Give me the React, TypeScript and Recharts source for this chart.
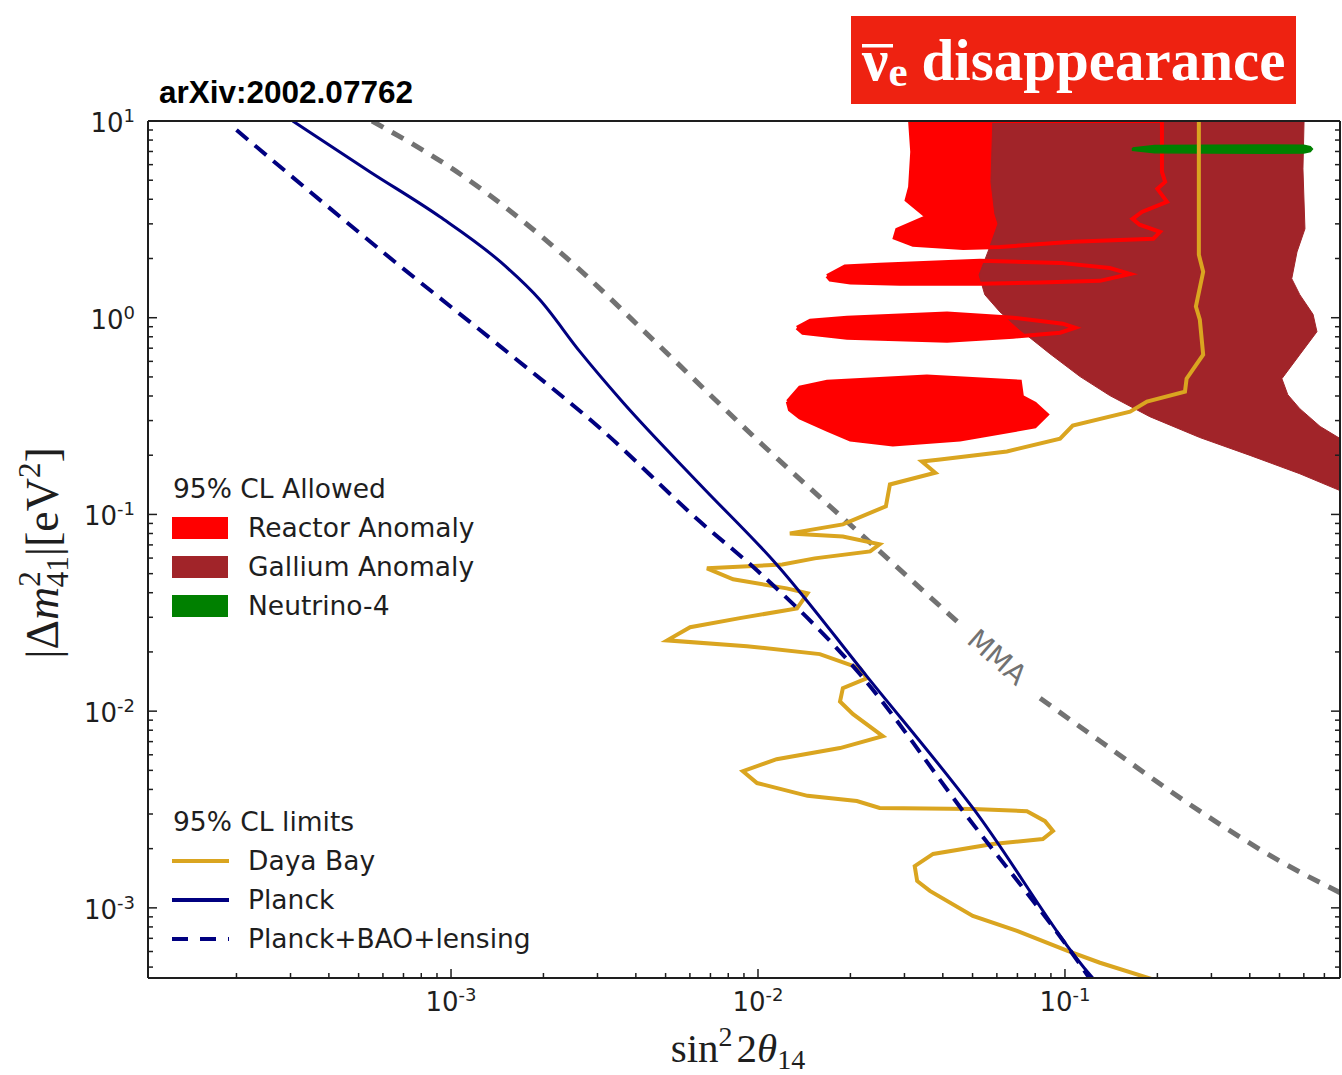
import React from "react";
import { ComposedChart, Line, XAxis, YAxis, Legend, ReferenceDot } from "recharts";

// axis ranges and tick positions
const X_DOMAIN: [number, number] = [1.03e-4, 0.787];
const Y_DOMAIN: [number, number] = [4.4e-4, 10];
const X_TICKS = [
  2e-4, 3e-4, 4e-4, 5e-4, 6e-4, 7e-4, 8e-4, 9e-4,
  1e-3, 2e-3, 3e-3, 4e-3, 5e-3, 6e-3, 7e-3, 8e-3, 9e-3,
  0.01, 0.02, 0.03, 0.04, 0.05, 0.06, 0.07, 0.08, 0.09,
  0.1, 0.2, 0.3, 0.4, 0.5, 0.6, 0.7,
];
const Y_TICKS = [
  5e-4, 6e-4, 7e-4, 8e-4, 9e-4,
  1e-3, 2e-3, 3e-3, 4e-3, 5e-3, 6e-3, 7e-3, 8e-3, 9e-3,
  0.01, 0.02, 0.03, 0.04, 0.05, 0.06, 0.07, 0.08, 0.09,
  0.1, 0.2, 0.3, 0.4, 0.5, 0.6, 0.7, 0.8, 0.9,
  1, 2, 3, 4, 5, 6, 7, 8, 9, 10,
];

// [sin^2 2theta, dm^2] pairs
const PLANCK = [
  [3.05e-4, 10], [5.45e-4, 5.51], [9.2e-4, 3.26], [1.45e-3, 1.92], [1.95e-3, 1.23],
  [2.63e-3, 0.672], [3.61e-3, 0.375], [6.47e-3, 0.142], [1.15e-2, 0.0557],
  [2.26e-2, 0.01507], [5.01e-2, 3.22e-3], [0.123, 4.41e-4], [0.13, 4.0e-4],
];
const PLANCK_BAO = [
  [2.0e-4, 9.0], [6.57e-4, 1.92], [1.45e-3, 0.713], [3.06e-3, 0.274], [6.47e-3, 0.092],
  [1.0e-2, 0.0514], [2.15e-2, 0.0154], [4.66e-2, 3.1e-3], [0.12, 4.4e-4], [0.125, 4.0e-4],
];
const MMA_UPPER = [
  [5.53e-4, 10], [1.07e-3, 5.38], [2.26e-3, 2.16], [4.8e-3, 0.713], [1.007e-2, 0.235],
  [2.15e-2, 0.08], [4.55e-2, 0.0277],
];
const MMA_LOWER = [
  [8.3e-2, 0.01164], [0.13, 7.05e-3], [0.275, 3.1e-3], [0.501, 1.73e-3], [0.8, 1.18e-3],
];
const MMA_LABEL_AT = { x: 0.0601, y: 0.0188, text: "MMA" };

const DAYA_BAY = [
  [0.273, 10], [0.273, 2.09], [0.282, 1.71], [0.267, 1.14], [0.275, 0.977], [0.282, 0.649],
  [0.249, 0.49], [0.246, 0.421], [0.185, 0.375], [0.163, 0.333], [0.106, 0.283],
  [0.0964, 0.243], [0.0647, 0.209], [0.0392, 0.19], [0.0342, 0.186], [0.0378, 0.163],
  [0.0269, 0.142], [0.0261, 0.11], [0.0189, 0.089], [0.0127, 0.0801], [0.0189, 0.0773],
  [0.0249, 0.0705], [0.0232, 0.0649], [0.0153, 0.0598], [0.012, 0.0557], [0.00682, 0.0532],
  [0.0083, 0.0468], [0.0124, 0.0421], [0.0145, 0.0397], [0.0134, 0.0333], [0.00873, 0.0297],
  [0.00601, 0.0267], [0.00506, 0.0229], [0.0092, 0.0214], [0.0159, 0.0195], [0.0215, 0.0165],
  [0.0226, 0.0147], [0.0189, 0.0131], [0.0185, 0.0112], [0.0204, 0.00966], [0.0255, 0.00746],
  [0.0185, 0.00649], [0.0115, 0.0057], [0.00893, 0.00495], [0.00993, 0.00431],
  [0.0145, 0.00371], [0.021, 0.00349], [0.0249, 0.00322], [0.0501, 0.00318], [0.0752, 0.0031],
  [0.0861, 0.00276], [0.0914, 0.00246], [0.0847, 0.00224], [0.0582, 0.00211],
  [0.0372, 0.00188], [0.0324, 0.00163], [0.033, 0.00137], [0.0363, 0.00122],
  [0.0501, 0.00091], [0.0698, 0.000764], [0.102, 0.000605], [0.13, 0.000526], [0.196, 0.00043],
];

const REACTOR_A = [
  [0.0313, 10], [0.0318, 6.97], [0.0313, 4.62], [0.0305, 3.97], [0.0355, 3.26], [0.0284, 2.8],
  [0.0279, 2.55], [0.032, 2.35], [0.0466, 2.26], [0.0614, 2.29], [0.106, 2.43], [0.194, 2.52],
  [0.204, 2.73], [0.175, 2.97], [0.166, 3.18], [0.178, 3.45], [0.215, 3.88], [0.2, 4.52],
  [0.212, 4.9], [0.207, 5.51], [0.207, 10], [0.0313, 10],
];
const REACTOR_B = [
  [0.0168, 1.63], [0.0192, 1.82], [0.0249, 1.86], [0.0528, 1.95], [0.0964, 1.9], [0.14, 1.79],
  [0.163, 1.67], [0.13, 1.54], [0.083, 1.51], [0.0528, 1.49], [0.029, 1.49], [0.02, 1.51],
  [0.0172, 1.56], [0.0168, 1.63],
];
const REACTOR_C = [
  [0.0134, 0.889], [0.0148, 0.966], [0.0195, 1.0], [0.0413, 1.05], [0.0678, 1.0],
  [0.0984, 0.933], [0.108, 0.889], [0.0964, 0.839], [0.0678, 0.801], [0.0413, 0.764],
  [0.0195, 0.791], [0.014, 0.839], [0.0134, 0.889],
];
const REACTOR_D = [
  [0.0125, 0.375], [0.0137, 0.442], [0.0168, 0.473], [0.0355, 0.502], [0.0713, 0.473],
  [0.0724, 0.397], [0.0798, 0.366], [0.0873, 0.322], [0.0798, 0.28], [0.0455, 0.24],
  [0.0275, 0.227], [0.02, 0.24], [0.0168, 0.27], [0.0137, 0.311], [0.0127, 0.341],
  [0.0125, 0.375],
];
const GALLIUM = [
  [0.0582, 10], [0.0574, 4.9], [0.0591, 3.37], [0.0605, 3.0], [0.0561, 2.16], [0.0525, 1.65],
  [0.0548, 1.31], [0.0614, 1.07], [0.0713, 0.869], [0.0893, 0.656], [0.112, 0.502],
  [0.14, 0.402], [0.189, 0.314], [0.275, 0.246], [0.401, 0.1995], [0.582, 0.161],
  [0.798, 0.131], [1.5, 0.094], [1.5, 0.3],
  [0.798, 0.24], [0.678, 0.28], [0.582, 0.345], [0.532, 0.406], [0.509, 0.49], [0.582, 0.649],
  [0.662, 0.849], [0.643, 1.04], [0.582, 1.31], [0.548, 1.58], [0.57, 2.16], [0.605, 2.83],
  [0.596, 5.71], [0.601, 10], [0.0582, 10],
];
const NEUTRINO4 = [
  [0.166, 7.3], [0.196, 7.5], [0.45, 7.55], [0.6, 7.52], [0.63, 7.4], [0.64, 7.2], [0.63, 7.0],
  [0.6, 6.88], [0.45, 6.85], [0.196, 6.9], [0.166, 7.1], [0.166, 7.3],
];

const RED = "#ff0000";
const GALLIUM_RED = "#a12429";
const GREEN = "#008000";
const GOLD = "#daa520";
const NAVY = "#000080";
const GRAY = "#727272";
const INK = "#1e1e1e";
const SANS = "'DejaVu Sans', sans-serif";
const SERIF = "'Liberation Serif', 'Times New Roman', serif";

const pts = (a: number[][]) => a.map(([x, y]) => ({ x, y }));

const isMajor = (v: number) => Math.abs(Math.log10(v) - Math.round(Math.log10(v))) < 1e-9;
const expOf = (v: number) => String(Math.round(Math.log10(v)));

function BottomTick(props: any) {
  const { x, y, payload } = props;
  const major = isMajor(payload.value);
  return (
    <g>
      <line x1={x} x2={x} y1={y} y2={y - (major ? 9 : 5)} stroke={INK} strokeWidth={1.5} />
      {major && (
        <text x={x} y={y + 33} textAnchor="middle" fontFamily={SANS} fontSize={26} fill={INK}>
          10<tspan dy={-10} fontSize={18}>{expOf(payload.value)}</tspan>
        </text>
      )}
    </g>
  );
}

function TopTick(props: any) {
  const { x, y, payload } = props;
  const major = isMajor(payload.value);
  return <line x1={x} x2={x} y1={y} y2={y + (major ? 9 : 5)} stroke={INK} strokeWidth={1.5} />;
}

function LeftTick(props: any) {
  const { x, y, payload } = props;
  const major = isMajor(payload.value);
  return (
    <g>
      <line x1={x} x2={x + (major ? 9 : 5)} y1={y} y2={y} stroke={INK} strokeWidth={1.5} />
      {major && (
        <text x={x - 13} y={y + 11} textAnchor="end" fontFamily={SANS} fontSize={26} fill={INK}>
          10<tspan dy={-10} fontSize={18}>{expOf(payload.value)}</tspan>
        </text>
      )}
    </g>
  );
}

function RightTick(props: any) {
  const { x, y, payload } = props;
  const major = isMajor(payload.value);
  return <line x1={x} x2={x - (major ? 9 : 5)} y1={y} y2={y} stroke={INK} strokeWidth={1.5} />;
}

const ALLOWED = [
  { name: "Reactor Anomaly", color: RED },
  { name: "Gallium Anomaly", color: GALLIUM_RED },
  { name: "Neutrino-4", color: GREEN },
];
const LIMITS = [
  { name: "Daya Bay", color: GOLD, dash: undefined },
  { name: "Planck", color: NAVY, dash: undefined },
  { name: "Planck+BAO+lensing", color: NAVY, dash: "16 12" },
];

function LegendBlocks() {
  const text = { position: "absolute" as const, fontFamily: SANS, fontSize: 26.5, color: INK, lineHeight: "30px", whiteSpace: "nowrap" as const };
  return (
    <div style={{ position: "relative", width: 1342, height: 1075, pointerEvents: "none" }}>
      <div style={{ ...text, left: 173, top: 474 }}>95% CL Allowed</div>
      {ALLOWED.map((d, i) => (
        <React.Fragment key={d.name}>
          <div style={{ position: "absolute", left: 172, top: 517 + i * 39, width: 56, height: 22, background: d.color }} />
          <div style={{ ...text, left: 248, top: 513 + i * 39 }}>{d.name}</div>
        </React.Fragment>
      ))}
      <div style={{ ...text, left: 173, top: 807 }}>95% CL limits</div>
      {LIMITS.map((d, i) => (
        <React.Fragment key={d.name}>
          <svg style={{ position: "absolute", left: 168, top: 851 + i * 39 }} width={64} height={20}>
            <line x1={4} x2={61} y1={10} y2={10} stroke={d.color} strokeWidth={4} strokeDasharray={d.dash} />
          </svg>
          <div style={{ ...text, left: 248, top: 846 + i * 39 }}>{d.name}</div>
        </React.Fragment>
      ))}
    </div>
  );
}

const fillCss = `
.fill-reactor .recharts-line-curve { fill: ${RED}; }
.fill-gallium .recharts-line-curve { fill: ${GALLIUM_RED}; }
.fill-n4 .recharts-line-curve { fill: ${GREEN}; }
`;

const lineBase = { type: "linear" as const, dataKey: "y", dot: false, activeDot: false, isAnimationActive: false, legendType: "none" as const };

export default function App() {
  return (
    <div style={{ position: "absolute", left: 0, top: 0, width: 1342, height: 1075, background: "#fff" }}>
      <style>{fillCss}</style>
      <ComposedChart width={1342} height={1075} margin={{ top: 120, right: 1, bottom: 57, left: 88 }}>
        {[REACTOR_A, REACTOR_B, REACTOR_C, REACTOR_D].map((r, i) => (
          <Line key={`rf${i}`} {...lineBase} className="fill-reactor" data={pts(r)} stroke={RED} strokeWidth={1} />
        ))}
        <Line {...lineBase} className="fill-gallium" data={pts(GALLIUM)} stroke={GALLIUM_RED} strokeWidth={1} />
        {[REACTOR_A, REACTOR_B, REACTOR_C, REACTOR_D].map((r, i) => (
          <Line key={`ro${i}`} {...lineBase} data={pts(r)} stroke={RED} strokeWidth={4} />
        ))}
        <Line {...lineBase} className="fill-n4" data={pts(NEUTRINO4)} stroke={GREEN} strokeWidth={1.5} />
        <Line {...lineBase} type="monotone" data={pts(MMA_UPPER)} stroke={GRAY} strokeWidth={5} strokeDasharray="13 10" />
        <Line {...lineBase} type="monotone" data={pts(MMA_LOWER)} stroke={GRAY} strokeWidth={5} strokeDasharray="13 10" />
        <Line {...lineBase} data={pts(DAYA_BAY)} stroke={GOLD} strokeWidth={4} />
        <Line {...lineBase} type="monotone" data={pts(PLANCK_BAO)} stroke={NAVY} strokeWidth={4} strokeDasharray="15 9" />
        <Line {...lineBase} type="monotone" data={pts(PLANCK)} stroke={NAVY} strokeWidth={3} />
        <ReferenceDot
          x={MMA_LABEL_AT.x}
          y={MMA_LABEL_AT.y}
          r={0}
          ifOverflow="visible"
          shape={(p: any) => (
            <text
              x={p.cx}
              y={p.cy}
              textAnchor="middle"
              dominantBaseline="central"
              fontFamily={SANS}
              fontSize={28}
              fill={GRAY}
              transform={`rotate(41 ${p.cx} ${p.cy})`}
            >
              {MMA_LABEL_AT.text}
            </text>
          )}
        />
        <XAxis
          dataKey="x"
          type="number"
          scale="log"
          domain={X_DOMAIN}
          allowDataOverflow
          ticks={X_TICKS}
          interval={0}
          height={40}
          tickSize={0}
          tickMargin={0}
          tick={<BottomTick />}
          axisLine={{ stroke: INK, strokeWidth: 2 }}
        />
        <XAxis
          xAxisId="top"
          orientation="top"
          type="number"
          scale="log"
          domain={X_DOMAIN}
          allowDataOverflow
          ticks={X_TICKS}
          interval={0}
          height={1}
          tickSize={0}
          tickMargin={0}
          tick={<TopTick />}
          axisLine={{ stroke: INK, strokeWidth: 2 }}
        />
        <YAxis
          type="number"
          scale="log"
          domain={Y_DOMAIN}
          allowDataOverflow
          ticks={Y_TICKS}
          interval={0}
          width={60}
          tickSize={0}
          tickMargin={0}
          tick={<LeftTick />}
          axisLine={{ stroke: INK, strokeWidth: 2 }}
        />
        <YAxis
          yAxisId="right"
          orientation="right"
          type="number"
          scale="log"
          domain={Y_DOMAIN}
          allowDataOverflow
          ticks={Y_TICKS}
          interval={0}
          width={1}
          tickSize={0}
          tickMargin={0}
          tick={<RightTick />}
          axisLine={{ stroke: INK, strokeWidth: 2 }}
        />
        <Legend
          layout="vertical"
          align="center"
          verticalAlign="middle"
          wrapperStyle={{ left: 0, top: 0, width: 1342, height: 1075, pointerEvents: "none" }}
          content={() => <LegendBlocks />}
        />
      </ComposedChart>
      <svg
        width={1342}
        height={1075}
        style={{ position: "absolute", left: 0, top: 0, pointerEvents: "none" }}
      >
        <rect x={851} y={16} width={445} height={88} fill="#ee2211" />
        <text x={862} y={80} fontFamily={SERIF} fontWeight="bold" fontSize={59} fill="#fff">
          ν<tspan fontSize={43} dy={6}>e</tspan>
          <tspan dy={-6} dx={14}>disappearance</tspan>
        </text>
        <rect x={862} y={44} width={31} height={3.5} fill="#fff" />
        <text x={159} y={103} fontFamily="'Liberation Sans', Arial, sans-serif" fontWeight="bold" fontSize={31.5} fill="#000">
          arXiv:2002.07762
        </text>
        <text x={738} y={1062} textAnchor="middle" fontFamily={SERIF} fontSize={41} fill={INK}>
          sin<tspan dy={-16} fontSize={28}>2</tspan>
          <tspan dy={16} dx={4}>2</tspan>
          <tspan fontStyle="italic">θ</tspan>
          <tspan dy={7} fontSize={28}>14</tspan>
        </text>
        <text
          x={58}
          y={553}
          textAnchor="middle"
          fontFamily={SERIF}
          fontSize={46}
          fill={INK}
          transform="rotate(-90 58 553)"
        >
          |Δ<tspan fontStyle="italic">m</tspan>
          <tspan dy={-18} fontSize={31}>2</tspan>
          <tspan dx={-16} dy={28} fontSize={31}>41</tspan>
          <tspan dy={-10}>|[eV</tspan>
          <tspan dy={-18} fontSize={31}>2</tspan>
          <tspan dy={18}>]</tspan>
        </text>
      </svg>
    </div>
  );
}
